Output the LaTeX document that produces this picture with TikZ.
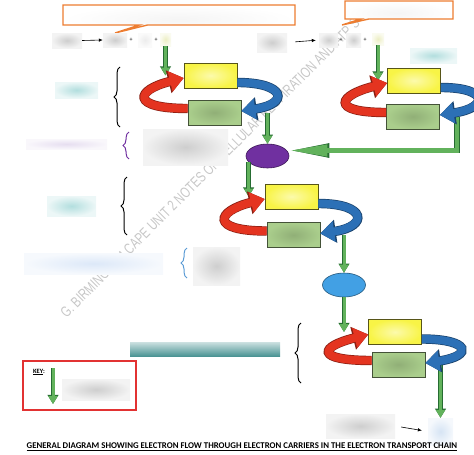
\documentclass[tikz,border=0pt]{standalone}
\usepackage{fontspec}
\setmainfont{Carlito}
\newfontfamily\stampfont{Liberation Sans}
\usetikzlibrary{arrows.meta,shapes.geometric,shapes.callouts,decorations.pathreplacing}

\definecolor{phgray}{RGB}{206,206,206}
\definecolor{phpale}{RGB}{236,236,236}
\definecolor{phcyan}{RGB}{178,222,222}
\definecolor{phlilac}{RGB}{230,222,240}
\definecolor{phsky}{RGB}{220,232,248}
\definecolor{phteal}{RGB}{70,145,145}
\definecolor{phcream}{RGB}{236,238,196}
\definecolor{phice}{RGB}{214,228,244}
\definecolor{cplxyellow}{RGB}{248,244,70}
\definecolor{cplxgreen}{RGB}{170,206,140}
\definecolor{arcred}{RGB}{228,52,32}
\definecolor{arcblue}{RGB}{44,112,182}
\definecolor{flowgreen}{RGB}{98,178,92}
\definecolor{flowedge}{RGB}{38,108,50}
\definecolor{noteorange}{RGB}{237,125,49}
\definecolor{keyred}{RGB}{226,50,50}
\definecolor{carpurple}{RGB}{112,48,160}
\definecolor{carblue}{RGB}{66,160,228}
\definecolor{bracesky}{RGB}{91,155,213}

\tikzset{
  blank/.style={inner color=#1, outer color=#1!25!white, inner sep=0pt},
  ybox/.style={draw=cplxyellow!35!black, inner color=cplxyellow!45!white, outer color=cplxyellow,
    minimum width=53pt, minimum height=25pt, inner sep=0pt, line width=0.6pt},
  gbox/.style={draw=cplxgreen!40!black, inner color=cplxgreen!85!black, outer color=cplxgreen,
    minimum width=53pt, minimum height=25pt, inner sep=0pt, line width=0.6pt},
  carrier/.style={ellipse, draw=#1!55!black, fill=#1, minimum width=43pt, minimum height=24pt,
    inner sep=0pt, line width=0.6pt},
  redarc/.style={draw=arcred, line width=8pt, -{Triangle[length=14pt,width=20pt]},
    preaction={draw=arcred!60!black, line width=9.4pt, -{Triangle[length=15.5pt,width=22.5pt]}}},
  bluearc/.style={draw=arcblue, line width=8pt, -{Triangle[length=14pt,width=20pt]},
    preaction={draw=arcblue!60!black, line width=9.4pt, -{Triangle[length=15.5pt,width=22.5pt]}}},
  flow/.style={draw=flowgreen, line width=3pt, -{Triangle[length=8pt,width=9pt]},
    preaction={draw=flowedge, line width=4.4pt, -{Triangle[length=9.2pt,width=10.6pt]}}},
  bigflow/.style={draw=flowgreen, line width=4.2pt, -{Triangle[length=38pt,width=11pt]},
    preaction={draw=flowedge, line width=5.6pt, -{Triangle[length=40pt,width=13pt]}}},
  talk/.style={rectangle callout, draw=noteorange, line width=1.4pt, inner color=gray!8,
    outer color=white, inner sep=0pt, callout pointer width=8pt},
  curly/.style={decorate, decoration={brace, amplitude=6pt}, line width=1pt},
  stamp/.style={text=black!22, font=\stampfont\fontsize{15}{15}\selectfont, inner sep=0pt},
  sign/.style={font=\fontsize{6}{6}\selectfont, inner sep=0pt}
}

\begin{document}
\begin{tikzpicture}[x=1pt, y=-1pt]
  \useasboundingbox (0,0) rectangle (474,455);
  \node[stamp, rotate=45] (wm) at (210,168)
    {\scalebox{0.735}[1]{G. BIRMINGHAM CAPE UNIT 2 NOTES ON CELLULAR RESPIRATION AND ATP S}};

  \node[talk, minimum width=232pt, minimum height=20pt, callout absolute pointer={(115,33)}] (note1) at (179,15) {};
  \node[talk, minimum width=108pt, minimum height=18pt, callout absolute pointer={(342,25)}] (note2) at (399,10) {};

  \node[blank=phgray, minimum width=30pt, minimum height=15pt] (a1) at (67,40.5) {};
  \node[blank=phgray, minimum width=24pt, minimum height=14pt] (a2) at (115,40) {};
  \node[blank=phpale, minimum width=14pt, minimum height=14pt] (a3) at (145,40) {};
  \node[blank=phcream, minimum width=11pt, minimum height=13pt] (a4) at (165.5,39.5) {};
  \node[sign] (p1) at (131,40) {+};
  \node[sign] (p2) at (156,40) {+};
  \draw[-{Latex[length=4pt,width=3.5pt]}, line width=0.6pt] (a1.east) -- (a2.west);

  \node[blank=phgray, minimum width=30pt, minimum height=19pt] (b1) at (272,42.5) {};
  \node[blank=phgray, minimum width=19pt, minimum height=14pt] (b2) at (328.5,40) {};
  \node[blank=phgray, minimum width=15pt, minimum height=14pt] (b3) at (353.5,40) {};
  \node[blank=phcream, minimum width=12pt, minimum height=12pt] (b4) at (378,39) {};
  \node[sign] (p3) at (341,40) {+};
  \node[sign] (p4) at (365,40) {+};
  \draw[-{Latex[length=4pt,width=3.5pt]}, line width=0.6pt, shorten <=8pt, shorten >=3pt] (b1.east) -- (b2.west);

  \node[blank=phcyan, minimum width=43pt, minimum height=16pt] (c1) at (76.5,90) {};
  \node[blank=phcyan, minimum width=47pt, minimum height=15pt] (c2) at (433.5,55.5) {};
  \node[blank=phlilac, minimum width=81pt, minimum height=10pt] (c3) at (66.5,144) {};
  \node[blank=phgray, minimum width=85pt, minimum height=36pt] (c4) at (185.5,147) {};
  \node[blank=phcyan, minimum width=49pt, minimum height=20pt] (c5) at (71.5,206) {};
  \node[blank=phsky, minimum width=139pt, minimum height=21pt] (c6) at (93.5,263.5) {};
  \node[blank=phgray, minimum width=47pt, minimum height=38pt] (c7) at (216.5,266) {};
  \node[top color=phteal!30!white, bottom color=phteal, minimum width=150pt, minimum height=14pt,
    inner sep=0pt] (c8) at (205,349.5) {};

  \draw[curly] (120,127) -- (120,67);
  \draw[curly, carpurple] (129,159) -- (129,132);
  \draw[curly] (127,235) -- (127,177);
  \draw[curly, bracesky] (187,278) -- (187,248);
  \draw[curly] (301,383) -- (301,323);

  \node[ybox] (y1) at (210.5,75.5) {};
  \node[gbox] (g1) at (214.5,112.5) {};
  \node[ybox] (y2) at (414,80.5) {};
  \node[gbox] (g2) at (413,116.5) {};
  \node[ybox] (y3) at (291.5,196.5) {};
  \node[gbox] (g3) at (293.5,235) {};
  \node[ybox] (y4) at (395,332) {};
  \node[gbox] (g4) at (398.5,364.5) {};

  \node[carrier=carpurple] (pur) at (267.5,156) {};
  \node[carrier=carblue] (blu) at (344,285) {};

  \node[blank=phgray, minimum width=69pt, minimum height=24pt] (e1) at (360.5,426) {};
  \node[blank=phice, minimum width=25pt, minimum height=27pt] (fin) at (440.5,431.5) {};
  \draw[-{Latex[length=4pt,width=3.5pt]}, line width=0.6pt, shorten <=6pt, shorten >=6pt] (e1.east) -- (fin.west);

  \draw[flow] (a4.south) -- (a4.south |- y1.west);
  \draw[flow] (b4.south) -- (b4.south |- y2.west);
  \draw[flow] (g1.east -| pur.north) -- (pur.north);
  \draw[bigflow] ([xshift=17pt]g2.east) |- ([yshift=5.5pt]pur.east);
  \draw[flow] (pur.198) -- (pur.198 |- y3.west);
  \draw[flow] (g3.east -| blu.north) -- (blu.north);
  \draw[flow] (blu.south) -- (blu.south |- y4.west);
  \draw[flow] (g4.east -| fin.north) -- (fin.north);

  \draw[redarc] ([yshift=4pt]g1.west) .. controls +(-58,0) and +(-48,12) .. ([yshift=-2.5pt]y1.west);
  \draw[bluearc] ([yshift=-7pt]y1.east) .. controls +(49,0) and +(48,-7) .. ([yshift=1.5pt]g1.east);
  \draw[redarc] ([yshift=4pt]g2.west) .. controls +(-58,0) and +(-48,12) .. ([yshift=-2.5pt]y2.west);
  \draw[bluearc] ([yshift=-7pt]y2.east) .. controls +(49,0) and +(48,-7) .. ([yshift=1.5pt]g2.east);
  \draw[redarc] ([yshift=4pt]g3.west) .. controls +(-58,0) and +(-48,12) .. ([yshift=-2.5pt]y3.west);
  \draw[bluearc] ([yshift=-7pt]y3.east) .. controls +(49,0) and +(48,-7) .. ([yshift=1.5pt]g3.east);
  \draw[redarc] ([yshift=4pt]g4.west) .. controls +(-58,0) and +(-48,12) .. ([yshift=-2.5pt]y4.west);
  \draw[bluearc] ([yshift=-7pt]y4.east) .. controls +(49,0) and +(48,-7) .. ([yshift=1.5pt]g4.east);

  \node[draw=keyred, line width=1.3pt, minimum width=113pt, minimum height=49pt, inner sep=0pt] (keybox) at (79.5,385.5) {};
  \node[font=\fontsize{6.5}{7}\selectfont\bfseries, inner sep=0pt] (keytext) at (39,372) {\underline{KEY}:};
  \node[blank=phgray, minimum width=68pt, minimum height=21pt] (keyblank) at (96,389.5) {};
  \coordinate (keytop) at (53,368);
  \coordinate (keybot) at (53,404);
  \draw[flow] (keytop) -- (keybot);

  \node[font=\fontsize{8.8}{10}\selectfont\bfseries, inner sep=0pt] (title) at (242,447)
    {\underline{GENERAL DIAGRAM SHOWING ELECTRON FLOW THROUGH ELECTRON CARRIERS IN THE ELECTRON TRANSPORT CHAIN}};
\end{tikzpicture}
\end{document}
